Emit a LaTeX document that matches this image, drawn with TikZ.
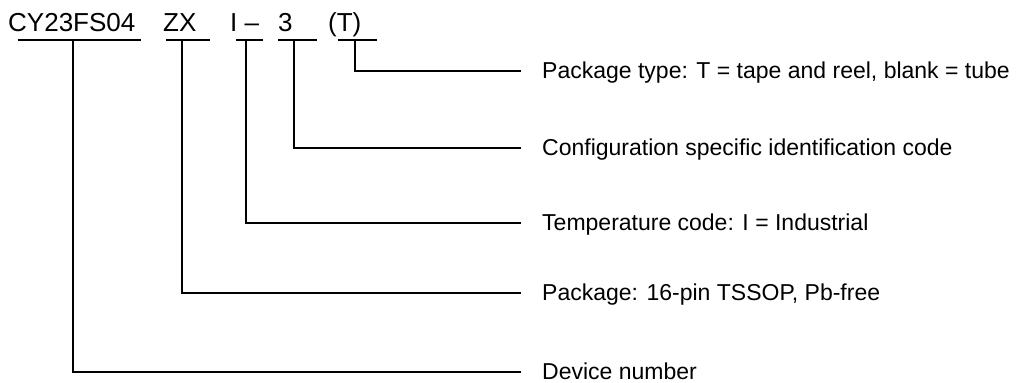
\documentclass[tikz,border=0pt]{standalone}
\usepackage{fontspec}
\setmainfont{Liberation Sans}
\begin{document}
\begin{tikzpicture}[x=1pt,y=-1pt,
  code/.style={anchor=base west,inner sep=0pt,font=\fontsize{26}{30}\selectfont},
  lab/.style={anchor=west,inner xsep=21pt,inner ysep=0pt,text height=16.5pt,text depth=0pt,font=\fontsize{23}{27}\selectfont},
  wire/.style={line width=1.8pt,black}]
\useasboundingbox (0,0) rectangle (1029,383);
% part-number fields
\node[code] (c1) at (8,31) {CY23FS04};
\node[code] (c2) at (163,31) {ZX};
\node[code] (c3) at (230,31) {I –};
\node[code] (c4) at (278,31) {3};
\node[code] (c5) at (328,31) {(T)};
% underline coordinates
\coordinate (u1l) at (17.7,40); \coordinate (u1r) at (140.7,40); \coordinate (d1) at (72.7,40);
\coordinate (u2l) at (166,40);  \coordinate (u2r) at (210,40);   \coordinate (d2) at (182,40);
\coordinate (u3l) at (236,40);  \coordinate (u3r) at (262.7,40); \coordinate (d3) at (246,40);
\coordinate (u4l) at (278.3,40);\coordinate (u4r) at (317.3,40); \coordinate (d4) at (293.7,40);
\coordinate (u5l) at (337.7,40);\coordinate (u5r) at (376.7,40); \coordinate (d5) at (355,40);
% labels
\node[lab] (l5) at (521,70.7) {Package type: T = tape and reel, blank = tube};
\node[lab] (l4) at (521,147.7) {Configuration specific identification code};
\node[lab] (l3) at (521,222.7) {Temperature code: I = Industrial};
\node[lab] (l2) at (521,292.7) {Package: 16-pin TSSOP, Pb-free};
\node[lab] (l1) at (521,371.7) {Device number};
% underlines
\foreach \i in {1,...,5} {\draw[wire] (u\i l) -- (u\i r);}
% connectors
\draw[wire] (d5) |- (l5.west);
\draw[wire] (d4) |- (l4.west);
\draw[wire] (d3) |- (l3.west);
\draw[wire] (d2) |- (l2.west);
\draw[wire] (d1) |- (l1.west);
\end{tikzpicture}
\end{document}
